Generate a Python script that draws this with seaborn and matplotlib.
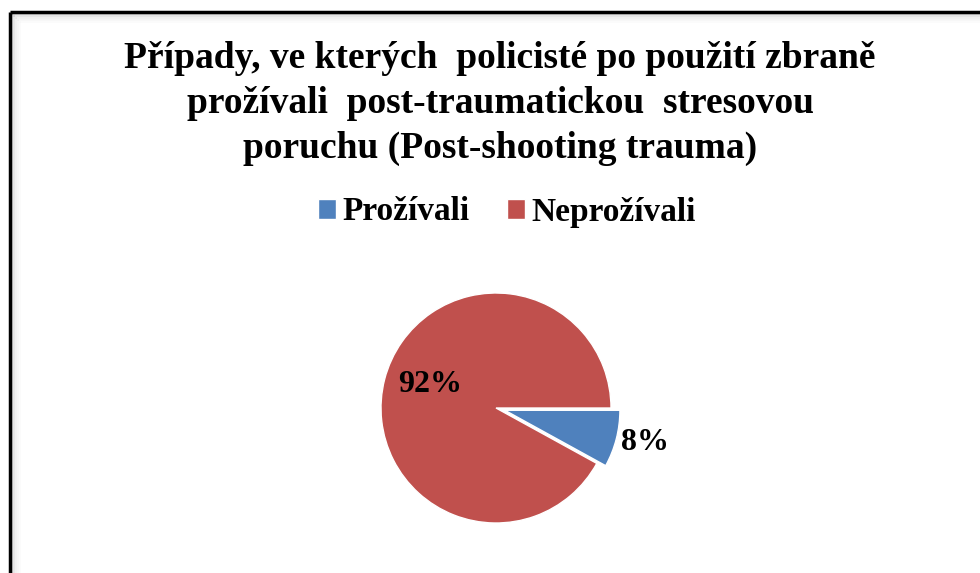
import numpy as np
import matplotlib
matplotlib.use("Agg")
import matplotlib.pyplot as plt
import seaborn as sns
from matplotlib.lines import Line2D

# --- data ---
categories = ["Prožívali", "Neprožívali"]
shares = [8, 92]
colors = ["#4F81BD", "#C0504D"]
title_lines = [
    "Případy, ve kterých  policisté po použití zbraně",
    "prožívali  post-traumatickou  stresovou",
    "poruchu (Post-shooting trauma)",
]

sns.set_theme(style="white")
plt.rcParams["font.family"] = ["Liberation Serif", "DejaVu Serif"]
plt.rcParams["font.weight"] = "bold"
plt.rcParams["text.color"] = "black"

W, H = 980, 573
fig = plt.figure(figsize=(W / 100, H / 100), dpi=100)
fig.patch.set_facecolor("white")

# frame (left + top edges, with a soft inner shadow)
for i, a in enumerate([0.14, 0.09, 0.05, 0.03, 0.015]):
    off = 2 + 2 * i
    fig.add_artist(Line2D([(10 + off) / W, 1], [1 - (12 + off) / H] * 2,
                          color="black", alpha=a, lw=1.5, transform=fig.transFigure))
    fig.add_artist(Line2D([(10 + off) / W] * 2, [0, 1 - (12 + off) / H],
                          color="black", alpha=a, lw=1.5, transform=fig.transFigure))
fig.add_artist(Line2D([10 / W, 1], [1 - 12 / H] * 2, color="black", lw=2.5,
                      transform=fig.transFigure, solid_capstyle="butt"))
fig.add_artist(Line2D([10 / W] * 2, [0, 1 - 12 / H], color="black", lw=2.5,
                      transform=fig.transFigure, solid_capstyle="butt"))

# title
for k, line in enumerate(title_lines):
    fig.text(500 / W, 1 - (58 + 45 * k) / H, line, ha="center", va="center",
             fontsize=27, fontweight="bold", color="black")

# pie axes: centre (496, 408) px, radius 115 px
r_px = 115
cx, cy = 496, 408
half = 150
ax = fig.add_axes([(cx - half) / W, (H - cy - half) / H, 2 * half / W, 2 * half / H])
ax.axis("off")

wedges, texts, autotexts = ax.pie(
    shares, colors=colors, startangle=0, counterclock=False,
    explode=[0.08, 0], autopct="%d%%", pctdistance=0.62,
    wedgeprops=dict(edgecolor="white", linewidth=1),
    textprops=dict(fontsize=23, fontweight="bold", color="black"),
)
ax.set_xlim(-half / r_px, half / r_px)
ax.set_ylim(-half / r_px, half / r_px)

# small slice label sits outside its wedge
w0 = wedges[0]
mid = np.deg2rad((w0.theta1 + w0.theta2) / 2)
autotexts[0].set_position((1.26 * np.cos(mid) + w0.center[0],
                           1.26 * np.sin(mid) + w0.center[1] + 0.03))
x1, y1 = autotexts[1].get_position()
autotexts[1].set_position((x1 + 0.03, y1 + 0.05))

fig.legend(wedges, categories, loc="center", bbox_to_anchor=(507 / W, 1 - 212 / H),
           ncol=2, frameon=False, handlelength=0.55, handleheight=0.55,
           handletextpad=0.2, columnspacing=1.1, labelcolor="black",
           prop=dict(size=24, weight="bold"))

fig.savefig("out.png", dpi=100, facecolor="white")
